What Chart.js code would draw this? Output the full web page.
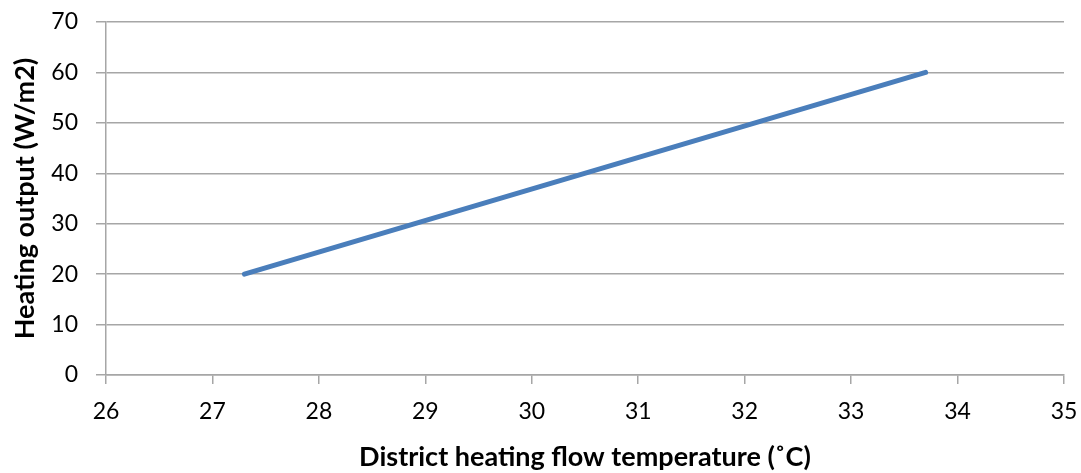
<!DOCTYPE html>
<html>
<head>
<meta charset="utf-8">
<script src="https://cdn.jsdelivr.net/npm/chart.js@4/dist/chart.umd.min.js"></script>
<style>
  html, body { margin: 0; padding: 0; background: #fff; }
  #wrap { width: 1081px; height: 473px; }
</style>
</head>
<body>
<div id="wrap"><canvas id="chart"></canvas></div>
<script>
// Flow temperature (x) vs heating output (y)
var flow_temps = [27.3, 33.7];
var heat_output = [20, 60];
var x_title = 'District heating flow temperature (˚C)';
var y_title = 'Heating output (W/m2)';

// pair the x and y values for a scatter line
var points = [];
for (var i = 0; i < flow_temps.length; ++i)
  points.push({x: flow_temps[i], y: heat_output[i]});

var grid_grey = '#a6a6a6';
var font_name = 'Lato, "Open Sans", sans-serif';

// fix the axis box sizes and drop the label overhang padding
function fit_box(size_key, size){
  return function(scale){
    scale[size_key] = size;
    scale.paddingTop = 0;
    scale.paddingBottom = 0;
    scale.paddingLeft = 0;
    scale.paddingRight = 0;
  };
}

var ctx = document.getElementById('chart');
var myChart = new Chart(ctx, {
  type: 'scatter',
  data: {
    datasets: [{
      data: points,
      showLine: true,
      borderColor: '#4a7ebb',
      backgroundColor: '#4a7ebb',
      borderWidth: 5,
      borderCapStyle: 'round',
      pointRadius: 0,
      pointHoverRadius: 0
    }]
  },
  options: {
    responsive: true,
    maintainAspectRatio: false,
    animation: false,
    layout: { padding: { left: 0, right: 17, top: 22, bottom: 0 } },
    plugins: { legend: { display: false }, tooltip: { enabled: false } },
    scales: {
      x: {
        type: 'linear',
        min: 26, max: 35,
        ticks: { stepSize: 1, padding: 14, color: '#000', font: { family: font_name, size: 23 } },
        grid: { drawOnChartArea: false, drawTicks: true, tickLength: 9, color: grid_grey, lineWidth: 1.5 },
        border: { color: grid_grey, width: 1.5 },
        title: {
          display: true, text: x_title, color: '#000',
          font: { family: font_name, size: 27, weight: 'bold' },
          padding: { top: 0, bottom: 0 }
        },
        afterFit: fit_box('height', 98)
      },
      y: {
        min: 0, max: 70,
        ticks: { stepSize: 10, padding: 18, color: '#000', font: { family: font_name, size: 23 } },
        grid: { tickLength: 10, color: grid_grey, lineWidth: 1.5 },
        border: { color: grid_grey, width: 1.5 },
        title: {
          display: true, text: y_title, color: '#000',
          font: { family: font_name, size: 27, weight: 'bold' },
          padding: { top: 9, bottom: 0 }
        },
        afterFit: fit_box('width', 106)
      }
    }
  }
});
</script>
</body>
</html>
